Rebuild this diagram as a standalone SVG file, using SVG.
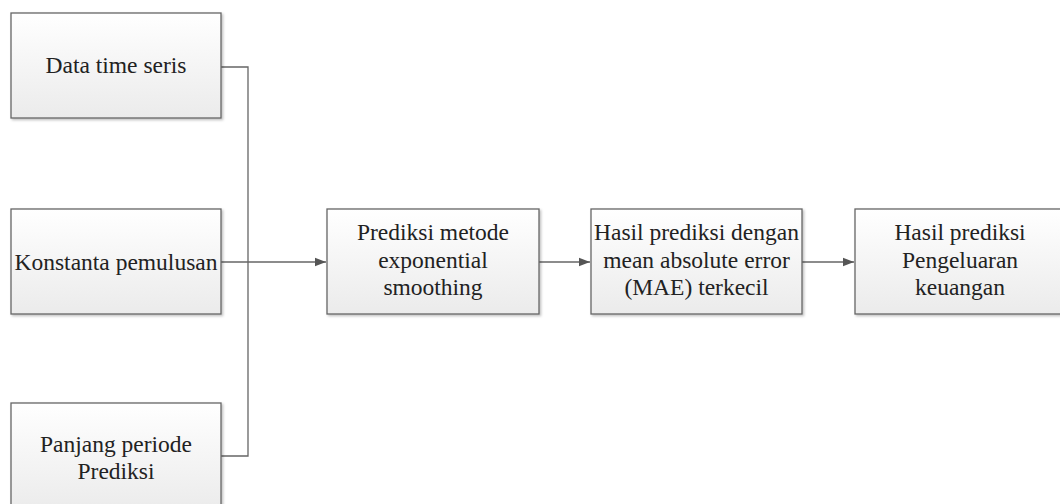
<svg xmlns="http://www.w3.org/2000/svg" width="1060" height="504" viewBox="0 0 1060 504">
  <defs>
    <linearGradient id="boxFill" x1="0" y1="0" x2="0" y2="1">
      <stop offset="0" stop-color="#ffffff"/>
      <stop offset="1" stop-color="#ebebeb"/>
    </linearGradient>
    <filter id="shadow" x="-5%" y="-5%" width="115%" height="115%">
      <feDropShadow dx="1.5" dy="1.5" stdDeviation="1.2" flood-color="#000" flood-opacity="0.25"/>
    </filter>
    <marker id="arrow" markerWidth="12" markerHeight="10" refX="11" refY="5" orient="auto" markerUnits="userSpaceOnUse">
      <path d="M0,0.8 L11,5 L0,9.2 Z" fill="#555"/>
    </marker>
    <style>
      .box { fill: url(#boxFill); stroke: #666; stroke-width: 1.3; filter: url(#shadow); }
      .label { font-family: "Liberation Serif", "Times New Roman", serif; font-size: 23.5px; fill: #222; text-anchor: middle; }
      .wire { fill: none; stroke: #666; stroke-width: 1.3; }
    </style>
  </defs>
  <rect width="1060" height="504" fill="#ffffff"/>

  <!-- connectors -->
  <g id="connectors">
    <polyline class="wire" points="221,67 248,67 248,456 221,456"/>
    <line class="wire" x1="221" y1="262" x2="326" y2="262" marker-end="url(#arrow)"/>
    <line class="wire" x1="539" y1="262" x2="590" y2="262" marker-end="url(#arrow)"/>
    <line class="wire" x1="802" y1="262" x2="854" y2="262" marker-end="url(#arrow)"/>
  </g>

  <g id="data-time-seris">
    <rect class="box" x="11" y="13" width="210" height="105"/>
    <text class="label" x="116" y="73">Data time seris</text>
  </g>

  <g id="konstanta-pemulusan">
    <rect class="box" x="11" y="209" width="210" height="105"/>
    <text class="label" x="116" y="270">Konstanta pemulusan</text>
  </g>

  <g id="panjang-periode">
    <rect class="box" x="11" y="403" width="210" height="108"/>
    <text class="label" x="116" y="452">Panjang periode</text>
    <text class="label" x="116" y="479">Prediksi</text>
  </g>

  <g id="prediksi-metode">
    <rect class="box" x="327" y="209" width="212" height="105"/>
    <text class="label" x="433" y="240">Prediksi metode</text>
    <text class="label" x="433" y="267.5">exponential</text>
    <text class="label" x="433" y="295">smoothing</text>
  </g>

  <g id="hasil-mae">
    <rect class="box" x="591" y="209" width="211" height="105"/>
    <text class="label" x="696.5" y="240">Hasil prediksi dengan</text>
    <text class="label" x="696.5" y="267.5">mean absolute error</text>
    <text class="label" x="696.5" y="295">(MAE) terkecil</text>
  </g>

  <g id="hasil-pengeluaran">
    <rect class="box" x="855" y="209" width="210" height="105"/>
    <text class="label" x="960" y="240">Hasil prediksi</text>
    <text class="label" x="960" y="267.5">Pengeluaran</text>
    <text class="label" x="960" y="295">keuangan</text>
  </g>
</svg>
